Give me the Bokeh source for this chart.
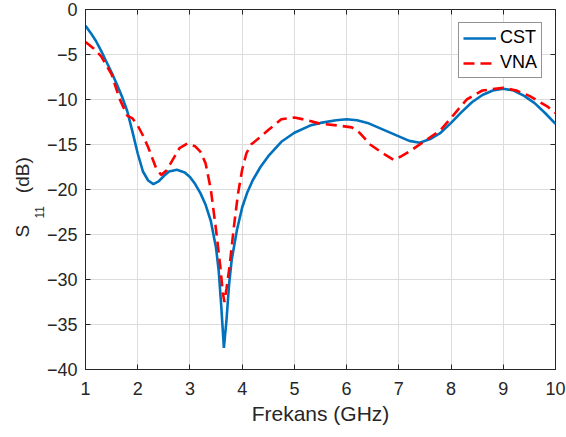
from bokeh.plotting import figure
from bokeh.models import (FixedTicker, LinearAxis, Range1d, Legend, LegendItem, Title)
from bokeh.embed import file_html
from bokeh.resources import INLINE

# ---- data ----
cst_f = [1.0, 1.1, 1.2, 1.3, 1.4, 1.5, 1.6, 1.7, 1.8, 1.9, 2.0, 2.1, 2.2, 2.3, 2.4,
         2.5, 2.6, 2.75, 2.9, 3.0, 3.1, 3.2, 3.3, 3.4, 3.5, 3.55, 3.6, 3.65, 3.7,
         3.75, 3.8, 3.9, 4.0, 4.1, 4.2, 4.35, 4.5, 4.75, 5.0, 5.3, 5.5, 5.8, 6.0,
         6.2, 6.4, 6.6, 6.8, 7.0, 7.2, 7.4, 7.6, 7.8, 8.0, 8.2, 8.4, 8.6, 8.8,
         9.0, 9.2, 9.4, 9.6, 9.8, 10.0]
cst_s11 = [-1.8, -2.6, -3.5, -4.6, -5.8, -7.0, -8.3, -9.7, -11.3, -13.6, -16.0,
           -18.0, -19.0, -19.4, -19.1, -18.5, -18.0, -17.8, -18.1, -18.6, -19.4,
           -20.4, -21.7, -23.5, -26.5, -29.0, -33.0, -37.6, -34.5, -30.5, -27.8,
           -24.5, -22.0, -20.3, -19.0, -17.5, -16.3, -14.7, -13.7, -12.9, -12.6,
           -12.3, -12.2, -12.3, -12.6, -13.1, -13.6, -14.1, -14.6, -14.8, -14.4,
           -13.7, -12.6, -11.4, -10.3, -9.5, -9.0, -8.8, -9.0, -9.6, -10.4,
           -11.5, -12.7]

vna_f = [1.0, 1.15, 1.3, 1.5, 1.65, 1.8, 1.9, 2.0, 2.1, 2.2, 2.35, 2.45, 2.55,
         2.65, 2.8, 2.95, 3.1, 3.2, 3.3, 3.4, 3.5, 3.58, 3.63, 3.66, 3.7, 3.76,
         3.84, 3.92, 4.0, 4.08, 4.17, 4.3, 4.5, 4.75, 5.0, 5.25, 5.5, 5.85, 6.1,
         6.25, 6.45, 6.7, 6.9, 7.05, 7.2, 7.5, 7.8, 8.05, 8.3, 8.6, 9.0, 9.25,
         9.5, 9.85, 10.0]
vna_s11 = [-3.6, -4.3, -5.2, -7.2, -9.9, -11.8, -12.1, -12.9, -14.0, -15.3,
           -17.6, -18.4, -17.9, -16.9, -15.4, -14.9, -15.2, -15.8, -17.1, -20.0,
           -24.5, -28.5, -31.5, -32.5, -31.0, -28.5, -24.2, -20.5, -17.8, -16.0,
           -15.0, -14.4, -13.4, -12.2, -12.0, -12.3, -12.7, -12.9, -13.1, -13.7,
           -15.0, -16.0, -16.7, -16.3, -15.8, -14.6, -13.4, -11.7, -10.0, -9.0,
           -8.7, -9.0, -9.6, -10.8, -11.5]

x_ticks = [1, 2, 3, 4, 5, 6, 7, 8, 9, 10]
y_ticks = [0, -5, -10, -15, -20, -25, -30, -35, -40]
series_names = ["CST", "VNA"]
x_label = "Frekans (GHz)"
y_label_main = "S"
y_label_sub = "11"
y_label_unit = "(dB)"

FONT = "Liberation Sans"
INK = "#262626"

p = figure(width=566, height=437, output_backend="svg", toolbar_location=None,
           x_range=Range1d(1, 10), y_range=Range1d(-40, 0),
           min_border_left=85, min_border_right=11, min_border_top=9,
           min_border_bottom=68)
p.background_fill_color = "white"
p.border_fill_color = "white"
p.outline_line_color = INK
p.outline_line_width = 1

for g in (p.xgrid, p.ygrid):
    g.grid_line_color = "#dcdcdc"
    g.grid_line_width = 1
p.xgrid.ticker = FixedTicker(ticks=x_ticks)
p.ygrid.ticker = FixedTicker(ticks=y_ticks)

xa = p.xaxis[0]
xa.ticker = FixedTicker(ticks=x_ticks)
ya = p.yaxis[0]
ya.ticker = FixedTicker(ticks=y_ticks)
ya.major_label_overrides = {t: (("\u2212" + str(-t)) if t < 0 else str(t)) for t in y_ticks}
for ax in (xa, ya):
    ax.axis_line_color = INK
    ax.major_tick_line_color = INK
    ax.major_tick_in = 5
    ax.major_tick_out = 0
    ax.minor_tick_line_color = None
    ax.major_label_text_font = FONT
    ax.major_label_text_font_size = "18px"
    ax.major_label_text_color = INK
xa.major_label_standoff = 12
ya.major_label_standoff = 8
xa.axis_label = x_label
xa.axis_label_text_font = FONT
xa.axis_label_text_font_size = "21px"
xa.axis_label_text_font_style = "normal"
xa.axis_label_text_color = INK
xa.axis_label_standoff = 4

# box ticks on top and right (no labels)
top = LinearAxis(ticker=FixedTicker(ticks=x_ticks), major_label_text_font_size="1px",
                 major_label_text_color=None,
                 major_tick_in=5, major_tick_out=0, axis_line_color=None,
                 major_tick_line_color=INK, minor_tick_line_color=None,
                 major_label_standoff=0)
right = LinearAxis(ticker=FixedTicker(ticks=y_ticks), major_label_text_font_size="1px",
                   major_label_text_color=None,
                   major_tick_in=5, major_tick_out=0, axis_line_color=None,
                   major_tick_line_color=INK, minor_tick_line_color=None,
                   major_label_standoff=0)
p.add_layout(top, "above")
p.add_layout(right, "right")

# y-axis label S_11 (dB): subscript column next to the tick labels, main text outside
t_sub = Title(text=y_label_sub, align="left", offset=151, standoff=0,
              vertical_align="bottom", text_font=FONT, text_font_size="12px",
              text_font_style="normal", text_color=INK)
t_main = Title(text=y_label_main + "\u00a0" * 6 + y_label_unit, align="left", offset=132,
               standoff=0, vertical_align="bottom", text_font=FONT,
               text_font_size="19px", text_font_style="normal", text_color=INK)
p.add_layout(t_sub, "left")
p.add_layout(t_main, "left")

r1 = p.line(cst_f, cst_s11, line_color="#0072BD", line_width=2.6)
r2 = p.line(vna_f, vna_s11, line_color="#FF0000", line_width=2.6, line_dash="11 6")

legend = Legend(items=[LegendItem(label=series_names[0], renderers=[r1]),
                       LegendItem(label=series_names[1], renderers=[r2])],
                location="top_right")
legend.margin = 13
legend.padding = 4
legend.spacing = 4
legend.glyph_width = 33
legend.glyph_height = 20
legend.label_standoff = 4
legend.label_text_font = FONT
legend.label_text_font_size = "18px"
legend.label_text_color = "black"
legend.border_line_color = INK
legend.border_line_width = 1
legend.background_fill_alpha = 1
p.add_layout(legend, "center")

open("out.html", "w").write(file_html(p, INLINE))
